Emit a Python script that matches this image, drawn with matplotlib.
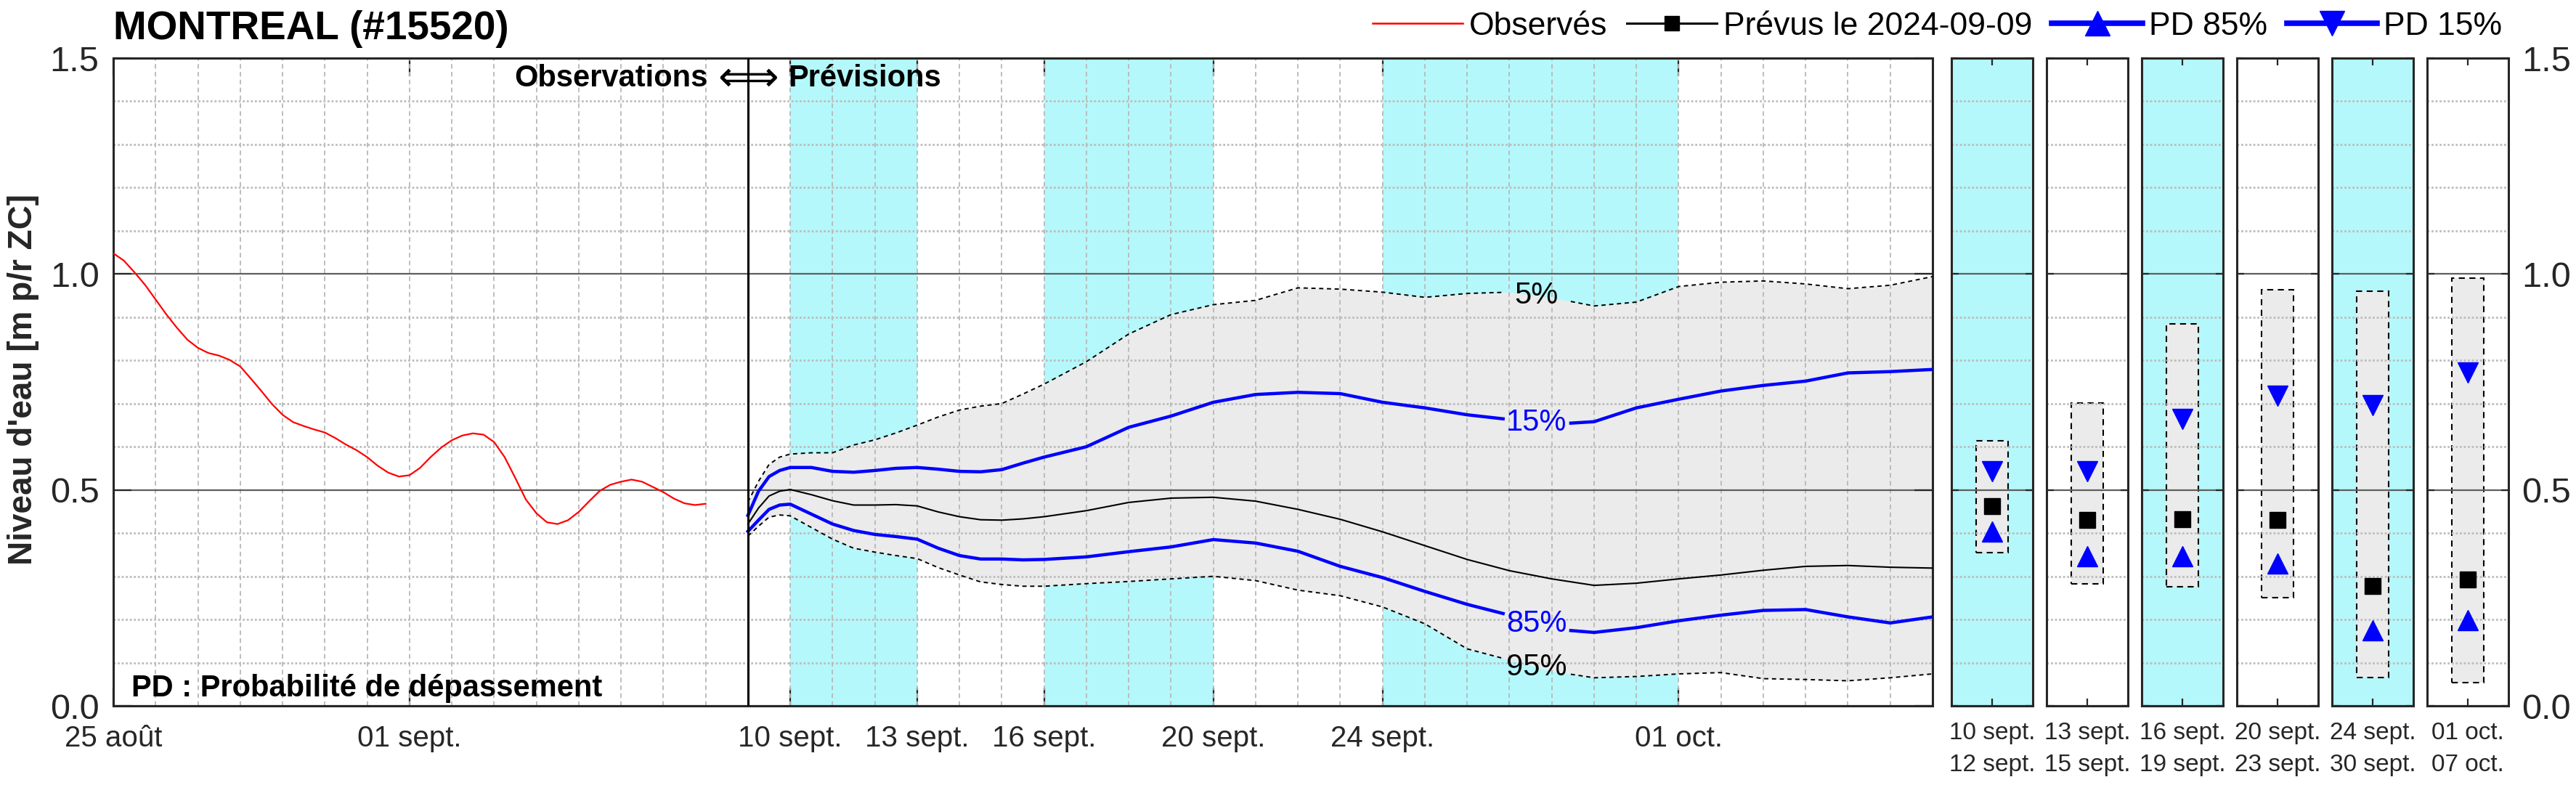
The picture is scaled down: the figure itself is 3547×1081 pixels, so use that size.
import numpy as np
import matplotlib.pyplot as plt
from matplotlib.lines import Line2D
from matplotlib.ticker import MultipleLocator

plt.rcParams['font.family'] = ['Liberation Sans', 'DejaVu Sans']

W, H = 3547, 1081
DARK = '#262626'
CYAN = '#b4f8fb'
BAND = '#ebebeb'

station = 'MONTREAL (#15520)'
forecast_date = '2024-09-09'

# days counted from 25 aout 00h
obs_days = np.arange(0, 14.25, 0.25)
obs_level = [1.048, 1.031, 1.004, 0.975, 0.941, 0.907, 0.876, 0.848, 0.829, 0.817,
             0.811, 0.801, 0.786, 0.758, 0.729, 0.699, 0.674, 0.657, 0.648, 0.640,
             0.633, 0.620, 0.605, 0.592, 0.576, 0.556, 0.540, 0.531, 0.534, 0.551,
             0.576, 0.598, 0.615, 0.626, 0.631, 0.628, 0.611, 0.576, 0.528, 0.478,
             0.446, 0.425, 0.421, 0.430, 0.449, 0.474, 0.498, 0.512, 0.519, 0.524,
             0.519, 0.507, 0.495, 0.480, 0.469, 0.465, 0.468]

fc_days = [15, 15.25, 15.5, 15.75, 16, 16.5, 17, 17.5, 18, 18.5, 19, 19.5, 20, 20.5,
           21, 21.5, 22, 23, 24, 25, 26, 27, 28, 29, 30, 31, 32, 33, 34, 35, 36, 37,
           38, 39, 40, 41, 42, 43]
q05 = [0.472, 0.520, 0.559, 0.576, 0.583, 0.586, 0.586, 0.604, 0.616, 0.632, 0.650,
       0.669, 0.685, 0.694, 0.700, 0.722, 0.745, 0.797, 0.861, 0.906, 0.929, 0.939,
       0.968, 0.965, 0.958, 0.946, 0.955, 0.958, 0.945, 0.926, 0.935, 0.971, 0.981,
       0.984, 0.977, 0.966, 0.974, 0.994]
q15 = [0.441, 0.497, 0.531, 0.545, 0.552, 0.552, 0.543, 0.541, 0.545, 0.550, 0.552,
       0.548, 0.543, 0.542, 0.547, 0.562, 0.576, 0.600, 0.645, 0.671, 0.703, 0.721,
       0.726, 0.723, 0.703, 0.690, 0.674, 0.663, 0.652, 0.658, 0.690, 0.710, 0.729,
       0.742, 0.752, 0.771, 0.774, 0.779]
median = [0.421, 0.458, 0.486, 0.497, 0.501, 0.489, 0.475, 0.465, 0.465, 0.466, 0.463,
          0.449, 0.438, 0.431, 0.430, 0.433, 0.438, 0.452, 0.471, 0.481, 0.483, 0.474,
          0.455, 0.432, 0.403, 0.371, 0.339, 0.313, 0.294, 0.279, 0.284, 0.294, 0.303,
          0.314, 0.323, 0.325, 0.321, 0.319]
q85 = [0.404, 0.430, 0.455, 0.465, 0.467, 0.444, 0.421, 0.406, 0.397, 0.392, 0.386,
       0.365, 0.348, 0.340, 0.340, 0.338, 0.339, 0.345, 0.357, 0.368, 0.385, 0.377,
       0.358, 0.323, 0.297, 0.265, 0.235, 0.210, 0.178, 0.170, 0.181, 0.197, 0.210,
       0.221, 0.223, 0.206, 0.192, 0.206]
q95 = [0.393, 0.416, 0.437, 0.442, 0.440, 0.413, 0.386, 0.365, 0.356, 0.348, 0.341,
       0.320, 0.303, 0.287, 0.281, 0.277, 0.277, 0.283, 0.288, 0.294, 0.300, 0.290,
       0.268, 0.255, 0.229, 0.190, 0.132, 0.106, 0.080, 0.065, 0.068, 0.074, 0.077,
       0.063, 0.061, 0.058, 0.065, 0.074]

tick_days = [0, 7, 16, 19, 22, 26, 30, 37]
tick_labels = ['25 août', '01 sept.', '10 sept.', '13 sept.', '16 sept.', '20 sept.',
               '24 sept.', '01 oct.']

# periods of the small panels
period_start = [16, 19, 22, 26, 30, 37]
period_end = [19, 22, 26, 30, 37, 43]
period_labels = ['10 sept.\n12 sept.', '13 sept.\n15 sept.', '16 sept.\n19 sept.',
                 '20 sept.\n23 sept.', '24 sept.\n30 sept.', '01 oct.\n07 oct.']
period_shaded = [True, False, True, False, True, False]
p05 = [0.614, 0.701, 0.885, 0.963, 0.960, 0.991]
p15 = [0.543, 0.544, 0.665, 0.718, 0.697, 0.772]
pmed = [0.463, 0.430, 0.433, 0.430, 0.278, 0.292]
p85 = [0.404, 0.347, 0.347, 0.330, 0.175, 0.198]
p95 = [0.354, 0.282, 0.275, 0.251, 0.065, 0.054]

label_day = 33.64
gap = (32.85, 34.45)


def split_at_gap(x, y, g0, g1):
    x = np.asarray(x, float)
    y = np.asarray(y, float)
    left = x < g0
    right = x > g1
    xl = np.append(x[left], g0)
    yl = np.append(y[left], np.interp(g0, x, y))
    xr = np.insert(x[right], 0, g1)
    yr = np.insert(y[right], 0, np.interp(g1, x, y))
    return (xl, yl), (xr, yr)


def style_grid(a):
    a.set_axisbelow('line')
    a.yaxis.set_minor_locator(MultipleLocator(0.1))
    a.grid(True, which='minor', axis='y', color='#bdbdbd', ls=(0, (1, 1)), lw=2.0)
    a.grid(True, which='major', axis='y', color='#5e5e5e', lw=1.6)
    a.tick_params(which='minor', length=0)
    for s in a.spines.values():
        s.set_linewidth(2.2)
        s.set_color(DARK)


fig = plt.figure(figsize=(W / 100, H / 100), dpi=100)
ax = fig.add_axes([156 / W, (H - 972) / H, 2505 / W, 892 / H])

for s0, s1, shaded in zip(period_start, period_end, period_shaded):
    if shaded:
        ax.axvspan(s0, s1, color=CYAN, lw=0, zorder=0.5)
ax.fill_between(fc_days, q95, q05, color=BAND, lw=0, zorder=1)

ax.plot(obs_days, obs_level, color='red', lw=1.6, zorder=3)
ax.plot(fc_days, median, color='k', lw=1.5, zorder=3)
for q, col, lw, ls, txt in [(q05, 'k', 1.4, (0, (3, 2.5)), '5%'),
                            (q15, 'blue', 3.2, '-', '15%'),
                            (q85, 'blue', 3.2, '-', '85%'),
                            (q95, 'k', 1.4, (0, (3, 2.5)), '95%')]:
    for xs, ys in split_at_gap(fc_days, q, *gap):
        ax.plot(xs, ys, color=col, lw=lw, ls=ls, zorder=3)
    ax.text(label_day, np.interp(label_day, fc_days, q), txt, color=col,
            fontsize=30, ha='center', va='center', zorder=4)

ax.axvline(15, color='k', lw=2.2, zorder=3)

ax.set_xlim(0, 43)
ax.set_ylim(0, 1.5)
ax.set_xticks(tick_days)
ax.set_xticklabels(tick_labels)
ax.set_yticks([0, 0.5, 1.0, 1.5])
ax.set_yticklabels(['0.0', '0.5', '1.0', '1.5'])
ax.xaxis.set_minor_locator(MultipleLocator(1))
ax.xaxis.remove_overlapping_locs = False
style_grid(ax)
ax.grid(True, which='minor', axis='x', color='#b8b8b8', ls=(0, (3.5, 2.5)), lw=1.3)
ax.tick_params(which='major', direction='in', length=18, width=1.6, color=DARK,
               top=True, right=True, labelcolor=DARK)
ax.tick_params(axis='x', which='major', labelsize=29, pad=19)
ax.tick_params(axis='y', which='major', labelsize=35, pad=14)

ax.text(14.05, 1.453, 'Observations', fontsize=30, fontweight='bold',
        ha='right', va='center', zorder=5)
ax.text(15, 1.453, '\u27fa', fontsize=42, ha='center', va='center',
        family='DejaVu Sans', zorder=5)
ax.text(15.95, 1.453, 'Prévisions', fontsize=30, fontweight='bold',
        ha='left', va='center', zorder=5)
ax.text(0.43, 0.040, 'PD : Probabilité de dépassement', fontsize=30,
        fontweight='bold', ha='left', va='center', zorder=5)

# small panels, one per period
for i in range(len(period_labels)):
    pax = fig.add_axes([(2687 + 131 * i) / W, (H - 972) / H, 112 / W, 892 / H])
    if period_shaded[i]:
        pax.set_facecolor(CYAN)
    pax.bar(0.5, p05[i] - p95[i], bottom=p95[i], width=0.4, color=BAND,
            edgecolor='k', lw=1.5, ls=(0, (4, 3)), zorder=1)
    pax.plot(0.5, pmed[i], 's', color='k', ms=16, zorder=3)
    pax.plot(0.5, p85[i], '^', color='blue', ms=20, zorder=3)
    pax.plot(0.5, p15[i], 'v', color='blue', ms=20, zorder=3)
    pax.set_xlim(0, 1)
    pax.set_ylim(0, 1.5)
    pax.set_xticks([0.5])
    pax.set_xticklabels([period_labels[i]], linespacing=1.55)
    pax.set_yticks([0, 0.5, 1.0, 1.5])
    pax.set_yticklabels(['0.0', '0.5', '1.0', '1.5'])
    style_grid(pax)
    pax.tick_params(which='major', direction='in', length=7, width=1.6, color=DARK,
                    top=True, right=True, labelleft=False, labelcolor=DARK)
    pax.tick_params(axis='x', labelsize=24, pad=16)
    pax.tick_params(axis='y', labelsize=35, pad=13,
                    labelright=(i == len(period_labels) - 1))

fig.text(156 / W, 1 - 40 / H, station, fontsize=39.5, fontweight='bold',
         ha='left', va='center')
fig.text(32 / W, 1 - 523 / H, "Niveau d'eau [m p/r ZC]", fontsize=33,
         fontweight='bold', rotation=90, ha='center', va='center', color=DARK)

handles = [Line2D([], [], color='red', lw=1.8, label='Observés'),
           Line2D([], [], color='k', lw=2.2, marker='s', ms=15,
                  label='Prévus le ' + forecast_date),
           Line2D([], [], color='blue', lw=5.5, marker='^', ms=24, label='PD 85%'),
           Line2D([], [], color='blue', lw=5.5, marker='v', ms=24, label='PD 15%')]
fig.legend(handles=handles, loc='center right', bbox_to_anchor=(3445 / W, 1 - 36 / H),
           ncol=4, frameon=False, fontsize=32, handlelength=2.8, handletextpad=0.2,
           columnspacing=0.6, borderpad=0, borderaxespad=0)

fig.savefig('out.png', dpi=100)
